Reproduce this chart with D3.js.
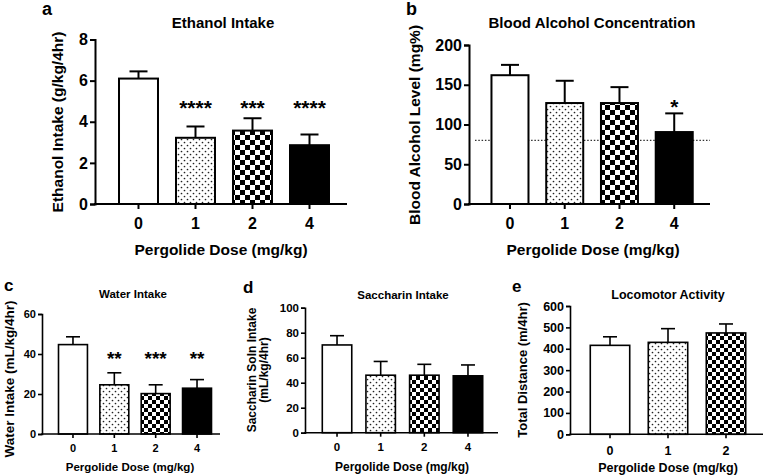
<!DOCTYPE html>
<html>
<head>
<meta charset="utf-8">
<script src="https://cdn.jsdelivr.net/npm/d3@7"></script>
<style>
  html, body { margin: 0; padding: 0; background: #fff; }
  svg { display: block; font-family: "Liberation Sans", Arial, sans-serif; font-weight: bold; }
</style>
</head>
<body>
<svg id="chart" width="766" height="476"></svg>
<script>
// ---------- data ----------
const doses4 = ["0", "1", "2", "4"];
const doses3 = ["0", "1", "2"];
const fillKinds4 = ["white", "dots", "checker", "black"];
const fillKinds3 = ["white", "dots", "checker"];

const ethanolMean = [6.1, 3.22, 3.57, 2.86];
const ethanolErr  = [0.35, 0.55, 0.6, 0.52];
const ethanolStars = ["", "****", "***", "****"];
const ethanolTicks = [0, 2, 4, 6, 8];

const bacMean = [162, 127, 127, 90.5];
const bacErr  = [13, 28, 20, 23.5];
const bacStars = ["", "", "", "*"];
const bacTicks = [0, 50, 100, 150, 200];
const bacThreshold = 80;

const waterMean = [44.7, 24.6, 20.2, 22.9];
const waterErr  = [3.9, 6.0, 4.4, 4.3];
const waterStars = ["", "**", "***", "**"];
const waterTicks = [0, 20, 40, 60];

const sacchMean = [70.2, 46, 46, 45.5];
const sacchErr  = [7.4, 11, 8.7, 8.7];
const sacchTicks = [0, 20, 40, 60, 80, 100];

const locoMean = [416, 430, 474];
const locoErr  = [40, 64, 42];
const locoTicks = [0, 100, 200, 300, 400, 500, 600];

// ---------- setup ----------
const svg = d3.select("#chart");
const defs = svg.append("defs");

function makePatterns(id, cs) {
  const pd = defs.append("pattern").attr("id", "dots" + id)
    .attr("patternUnits", "userSpaceOnUse").attr("width", 6).attr("height", 6);
  pd.append("rect").attr("width", 6).attr("height", 6).attr("fill", "#fff");
  [[1.5, 1.5], [4.5, 4.5]].forEach(([cx, cy]) =>
    pd.append("circle").attr("cx", cx).attr("cy", cy).attr("r", 0.85).attr("fill", "#222"));
  const pc = defs.append("pattern").attr("id", "checker" + id)
    .attr("patternUnits", "userSpaceOnUse").attr("width", cs * 2).attr("height", cs * 2);
  pc.append("rect").attr("width", cs * 2).attr("height", cs * 2).attr("fill", "#fff");
  pc.append("rect").attr("width", cs).attr("height", cs).attr("fill", "#000");
  pc.append("rect").attr("x", cs).attr("y", cs).attr("width", cs).attr("height", cs).attr("fill", "#000");
}
makePatterns("L", 5);
makePatterns("S", 4);

function drawPanel(p) {
  const g = svg.append("g");
  const x = d3.scaleBand().domain(p.cats).range(p.bandRange)
    .paddingInner(p.padIn).paddingOuter(p.padIn / 2);
  const y = d3.scaleLinear().domain([p.ticks[0], p.ticks[p.ticks.length - 1]]).range(p.yRange);

  const fillOf = k => k === "white" ? "#fff" : k === "black" ? "#000" : `url(#${k}${p.pat})`;

  if (p.refLine !== undefined) {
    g.append("line")
      .attr("x1", p.axisX + 6).attr("x2", p.axisEnd)
      .attr("y1", y(p.refLine)).attr("y2", y(p.refLine))
      .attr("stroke", "#333").attr("stroke-width", 1.2).attr("stroke-dasharray", "1.5,1.8");
  }

  const eb = g.selectAll(".eb").data(p.cats).enter().append("g");
  eb.append("line")
    .attr("x1", d => x(d) + x.bandwidth() / 2).attr("x2", d => x(d) + x.bandwidth() / 2)
    .attr("y1", (d, i) => y(p.mean[i])).attr("y2", (d, i) => y(p.mean[i] + p.err[i]))
    .attr("stroke", "#000").attr("stroke-width", p.sw);
  eb.append("line")
    .attr("x1", d => x(d) + x.bandwidth() / 2 - p.cap).attr("x2", d => x(d) + x.bandwidth() / 2 + p.cap)
    .attr("y1", (d, i) => y(p.mean[i] + p.err[i])).attr("y2", (d, i) => y(p.mean[i] + p.err[i]))
    .attr("stroke", "#000").attr("stroke-width", p.sw);

  g.selectAll(".bar").data(p.cats).enter().append("rect")
    .attr("x", d => x(d)).attr("width", x.bandwidth())
    .attr("y", (d, i) => y(p.mean[i]))
    .attr("height", (d, i) => y(0) - y(p.mean[i]))
    .attr("fill", (d, i) => fillOf(p.fills[i]))
    .attr("stroke", "#000").attr("stroke-width", p.sw);

  if (p.stars) {
    g.selectAll(".star").data(p.cats).enter().append("text")
      .attr("x", d => x(d) + x.bandwidth() / 2)
      .attr("y", y(p.starLevel))
      .attr("text-anchor", "middle")
      .attr("font-size", p.starSize)
      .text((d, i) => p.stars[i]);
  }

  const ya = g.append("g").attr("transform", `translate(${p.axisX},0)`)
    .call(d3.axisLeft(y).tickValues(p.ticks).tickSizeOuter(0).tickSize(p.tickLen).tickPadding(2));
  ya.selectAll("path,line").attr("stroke", "#000").attr("stroke-width", p.sw);
  ya.selectAll("text").attr("font-size", p.tickFont).attr("font-family", null).attr("fill", "#000");

  const xa = g.append("g").attr("transform", `translate(0,${y(0)})`)
    .call(d3.axisBottom(x).tickSizeOuter(0).tickSize(p.tickLen).tickPadding(p.xTickPad));
  xa.select(".domain").remove();
  xa.selectAll("line").attr("stroke", "#000").attr("stroke-width", p.sw);
  xa.selectAll("text").attr("font-size", p.tickFont).attr("font-family", null).attr("fill", "#000");
  g.append("line").attr("x1", p.axisX - p.sw / 2).attr("x2", p.axisEnd)
    .attr("y1", y(0)).attr("y2", y(0)).attr("stroke", "#000").attr("stroke-width", p.sw);

  g.append("text").attr("x", p.title[1]).attr("y", p.title[2]).attr("text-anchor", "middle")
    .attr("font-size", p.titleFont).text(p.title[0]);
  g.append("text").attr("x", p.letter[1]).attr("y", p.letter[2])
    .attr("font-size", p.letterFont).text(p.letter[0]);
  g.append("text").attr("x", p.xTitle[1]).attr("y", p.xTitle[2]).attr("text-anchor", "middle")
    .attr("font-size", p.axisFont).text(p.xTitle[0]);
  p.yTitle.forEach(t => {
    g.append("text").attr("transform", `translate(${t[1]},${t[2]}) rotate(-90)`)
      .attr("text-anchor", "middle").attr("font-size", p.yAxisFont || p.axisFont).text(t[0]);
  });
}

const big = { sw: 2, cap: 9, tickLen: 5, xTickPad: 9, tickFont: 16, titleFont: 15, axisFont: 15.5, letterFont: 18, pat: "L", starSize: 21 };
const small = { sw: 1.6, cap: 7, tickLen: 4, xTickPad: 6, tickFont: 11.5, titleFont: 11.5, axisFont: 11.5, letterFont: 17, pat: "S", starSize: 19 };

drawPanel(Object.assign({}, big, {
  cats: doses4, fills: fillKinds4, mean: ethanolMean, err: ethanolErr, ticks: ethanolTicks,
  stars: ethanolStars, starLevel: 4.35,
  bandRange: [110, 338], padIn: 0.316, yRange: [204, 39.5], axisX: 95, axisEnd: 347,
  title: ["Ethanol Intake", 223, 28], letter: ["a", 42, 15],
  xTitle: ["Pergolide Dose (mg/kg)", 221, 255], yTitle: [["Ethanol Intake (g/kg/4hr)", 63, 122]]
}));

drawPanel(Object.assign({}, big, {
  cats: doses4, fills: fillKinds4, mean: bacMean, err: bacErr, ticks: bacTicks,
  stars: bacStars, starLevel: 113, refLine: bacThreshold,
  bandRange: [482.6, 701.6], padIn: 0.324, yRange: [204, 45], axisX: 469, axisEnd: 710,
  title: ["Blood Alcohol Concentration", 592, 28], letter: ["b", 406, 15],
  xTitle: ["Pergolide Dose (mg/kg)", 593, 255], yTitle: [["Blood Alcohol Level (mg%)", 420, 125]]
}));

drawPanel(Object.assign({}, small, {
  cats: doses4, fills: fillKinds4, mean: waterMean, err: waterErr, ticks: waterTicks,
  stars: waterStars, starLevel: 34.5, tickFont: 11, yAxisFont: 13.5,
  bandRange: [52.3, 217.7], padIn: 0.3, yRange: [434, 314], axisX: 42, axisEnd: 220,
  title: ["Water Intake", 133, 298], letter: ["c", 4, 291],
  xTitle: ["Pergolide Dose (mg/kg)", 130, 471], yTitle: [["Water Intake (mL/kg/4hr)", 14, 379]]
}));

drawPanel(Object.assign({}, small, {
  cats: doses4, fills: fillKinds4, mean: sacchMean, err: sacchErr, ticks: sacchTicks,
  bandRange: [315.2, 489.8], padIn: 0.325, yRange: [432.7, 307.7], axisX: 305, axisEnd: 498,
  title: ["Saccharin Intake", 403, 299], letter: ["d", 243, 293], axisFont: 12,
  xTitle: ["Pergolide Dose (mg/kg)", 402, 471],
  yTitle: [["Saccharin Soln Intake", 256, 370], ["(mL/kg/4hr)", 268, 370]]
}));

drawPanel(Object.assign({}, small, {
  cats: doses3, fills: fillKinds3, mean: locoMean, err: locoErr, ticks: locoTicks,
  tickFont: 12.5, titleFont: 12.5, axisFont: 12.5, yAxisFont: 13, xTickPad: 8,
  bandRange: [581, 755], padIn: 0.32, yRange: [434.3, 306], axisX: 570, axisEnd: 763,
  title: ["Locomotor Activity", 668, 299], letter: ["e", 512, 292],
  xTitle: ["Pergolide Dose (mg/kg)", 668, 472], yTitle: [["Total Distance (m/4hr)", 527, 370]]
}));
</script>
</body>
</html>
